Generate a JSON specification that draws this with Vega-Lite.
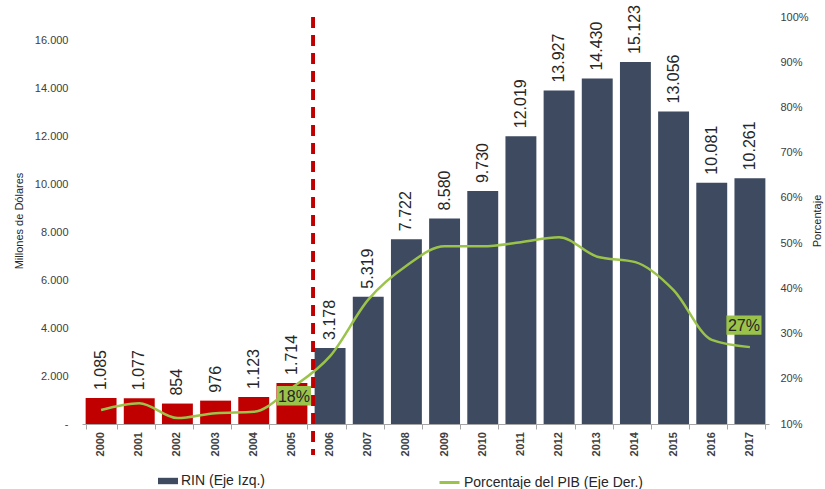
{
  "$schema": "https://vega.github.io/schema/vega-lite/v6.json",
  "width": 687,
  "height": 407,
  "autosize": {"type": "none"},
  "padding": {"left": 82, "top": 17, "right": 56, "bottom": 65},
  "background": "white",
  "config": {
    "font": "Liberation Sans",
    "view": {"stroke": null},
    "locale": {"number": {"decimal": ",", "thousands": ".", "grouping": [3], "currency": ["$", ""]}},
    "axisX": {
      "title": null,
      "labels": false,
      "tickBand": "extent",
      "tickSize": 5,
      "tickColor": "#a6a6a6",
      "domainColor": "#a6a6a6"
    }
  },
  "data": {
    "values": [
      {"year": "2000", "rin": 1085, "pct": 0.131},
      {"year": "2001", "rin": 1077, "pct": 0.146},
      {"year": "2002", "rin": 854, "pct": 0.113},
      {"year": "2003", "rin": 976, "pct": 0.124},
      {"year": "2004", "rin": 1123, "pct": 0.127},
      {"year": "2005", "rin": 1714, "pct": 0.18},
      {"year": "2006", "rin": 3178, "pct": 0.25},
      {"year": "2007", "rin": 5319, "pct": 0.375},
      {"year": "2008", "rin": 7722, "pct": 0.45},
      {"year": "2009", "rin": 8580, "pct": 0.493},
      {"year": "2010", "rin": 9730, "pct": 0.493},
      {"year": "2011", "rin": 12019, "pct": 0.502},
      {"year": "2012", "rin": 13927, "pct": 0.513},
      {"year": "2013", "rin": 14430, "pct": 0.47},
      {"year": "2014", "rin": 15123, "pct": 0.458},
      {"year": "2015", "rin": 13056, "pct": 0.396},
      {"year": "2016", "rin": 10081, "pct": 0.286},
      {"year": "2017", "rin": 10261, "pct": 0.27}
    ]
  },
  "encoding": {
    "x": {
      "field": "year",
      "type": "nominal",
      "title": null,
      "scale": {"paddingInner": 0.19, "paddingOuter": 0.095}
    }
  },
  "layer": [
    {
      "mark": {"type": "bar"},
      "encoding": {
        "y": {
          "field": "rin",
          "type": "quantitative",
          "scale": {"domain": [0, 17000], "nice": false},
          "axis": {
            "title": "Millones de Dólares",
            "titleFontSize": 11,
            "titleFontWeight": "normal",
            "titleColor": "#262626",
            "titlePadding": 10,
            "values": [0, 2000, 4000, 6000, 8000, 10000, 12000, 14000, 16000],
            "labelExpr": "datum.value === 0 ? '-' : format(datum.value, ',')",
            "labelFontSize": 11,
            "labelColor": "#404040",
            "labelPadding": 14,
            "domain": false,
            "ticks": false,
            "grid": false
          }
        },
        "color": {
          "datum": "RIN (Eje Izq.)",
          "scale": {"range": ["#3d4a60"]},
          "condition": {"test": "toNumber(datum.year) <= 2005", "value": "#c00000"},
          "legend": {
            "title": null,
            "orient": "none",
            "legendX": 76,
            "legendY": 454,
            "symbolType": "M-1,-0.32H1V0.32H-1Z",
            "symbolSize": 400,
            "symbolFillColor": "#1f3a60",
            "symbolStrokeWidth": 0,
            "labelFontSize": 14,
            "labelColor": "#262626",
            "labelOffset": 3,
            "labelLimit": 300
          }
        }
      }
    },
    {
      "mark": {"type": "text", "angle": 270, "align": "right", "baseline": "middle", "dx": -8, "fontSize": 11, "fontWeight": "bold", "color": "#404040"},
      "encoding": {
        "y": {"datum": 0, "scale": {"domain": [0, 17000], "nice": false}, "axis": null},
        "text": {"field": "year", "type": "nominal"},
        "angle": {"value": 270}
      }
    },
    {
      "mark": {"type": "text", "angle": 270, "align": "left", "baseline": "middle", "dx": 8, "fontSize": 16, "color": "#262626"},
      "encoding": {
        "y": {"field": "rin", "type": "quantitative", "scale": {"domain": [0, 17000], "nice": false}, "axis": null},
        "text": {"field": "rin", "type": "quantitative", "format": ","}
      }
    },
    {
      "mark": {"type": "rule", "color": "#c00000", "strokeWidth": 3, "strokeDash": [11, 7], "clip": false, "xOffset": 6},
      "encoding": {
        "x": {"datum": "2005", "bandPosition": 1},
        "y": {"datum": 17000, "scale": {"domain": [0, 17000], "nice": false}, "axis": null},
        "y2": {"datum": -1300}
      }
    },
    {
      "mark": {"type": "line", "interpolate": "monotone", "strokeWidth": 2.5},
      "encoding": {
        "y": {
          "field": "pct",
          "type": "quantitative",
          "scale": {"domain": [0.1, 1], "nice": false, "zero": false},
          "axis": {
            "orient": "right",
            "title": "Porcentaje",
            "titleAngle": 270,
            "titleFontSize": 11,
            "titleFontWeight": "normal",
            "titleColor": "#262626",
            "titlePadding": 14,
            "values": [0.1, 0.2, 0.3, 0.4, 0.5, 0.6, 0.7, 0.8, 0.9, 1],
            "format": ".0%",
            "labelFontSize": 11,
            "labelColor": "#404040",
            "labelPadding": 11,
            "domain": false,
            "ticks": false,
            "grid": false
          }
        },
        "stroke": {
          "datum": "Porcentaje del PIB (Eje Der.)",
          "scale": {"range": ["#9bc34a"]},
          "legend": {
            "title": null,
            "orient": "none",
            "legendX": 356,
            "legendY": 454,
            "symbolType": "stroke",
            "symbolSize": 400,
            "symbolStrokeWidth": 3,
            "labelFontSize": 14,
            "labelColor": "#262626",
            "labelOffset": 3,
            "labelLimit": 300
          }
        }
      }
    },
    {
      "transform": [{"filter": "datum.year === '2005'"}],
      "mark": {"type": "point", "shape": "M-1.75,-1H1.75V1H-1.75Z", "size": 380, "filled": true, "fill": "#9bc34a", "opacity": 1, "yOffset": 8, "xOffset": 2},
      "encoding": {"y": {"field": "pct", "type": "quantitative", "scale": {"domain": [0.1, 1], "nice": false, "zero": false}, "axis": null}}
    },
    {
      "transform": [{"filter": "datum.year === '2005'"}],
      "mark": {"type": "text", "fontSize": 16, "color": "#262626", "yOffset": 9, "xOffset": 2},
      "encoding": {
        "y": {"field": "pct", "type": "quantitative", "scale": {"domain": [0.1, 1], "nice": false, "zero": false}, "axis": null},
        "text": {"field": "pct", "type": "quantitative", "format": ".0%"}
      }
    },
    {
      "transform": [{"filter": "datum.year === '2017'"}],
      "mark": {"type": "point", "shape": "M-1.8,-1H1.8V1H-1.8Z", "size": 380, "filled": true, "fill": "#9bc34a", "opacity": 1, "yOffset": -22, "xOffset": -6},
      "encoding": {"y": {"field": "pct", "type": "quantitative", "scale": {"domain": [0.1, 1], "nice": false, "zero": false}, "axis": null}}
    },
    {
      "transform": [{"filter": "datum.year === '2017'"}],
      "mark": {"type": "text", "fontSize": 16, "color": "#262626", "yOffset": -21, "xOffset": -6},
      "encoding": {
        "y": {"field": "pct", "type": "quantitative", "scale": {"domain": [0.1, 1], "nice": false, "zero": false}, "axis": null},
        "text": {"field": "pct", "type": "quantitative", "format": ".0%"}
      }
    }
  ],
  "resolve": {"scale": {"y": "independent", "color": "independent"}}
}
